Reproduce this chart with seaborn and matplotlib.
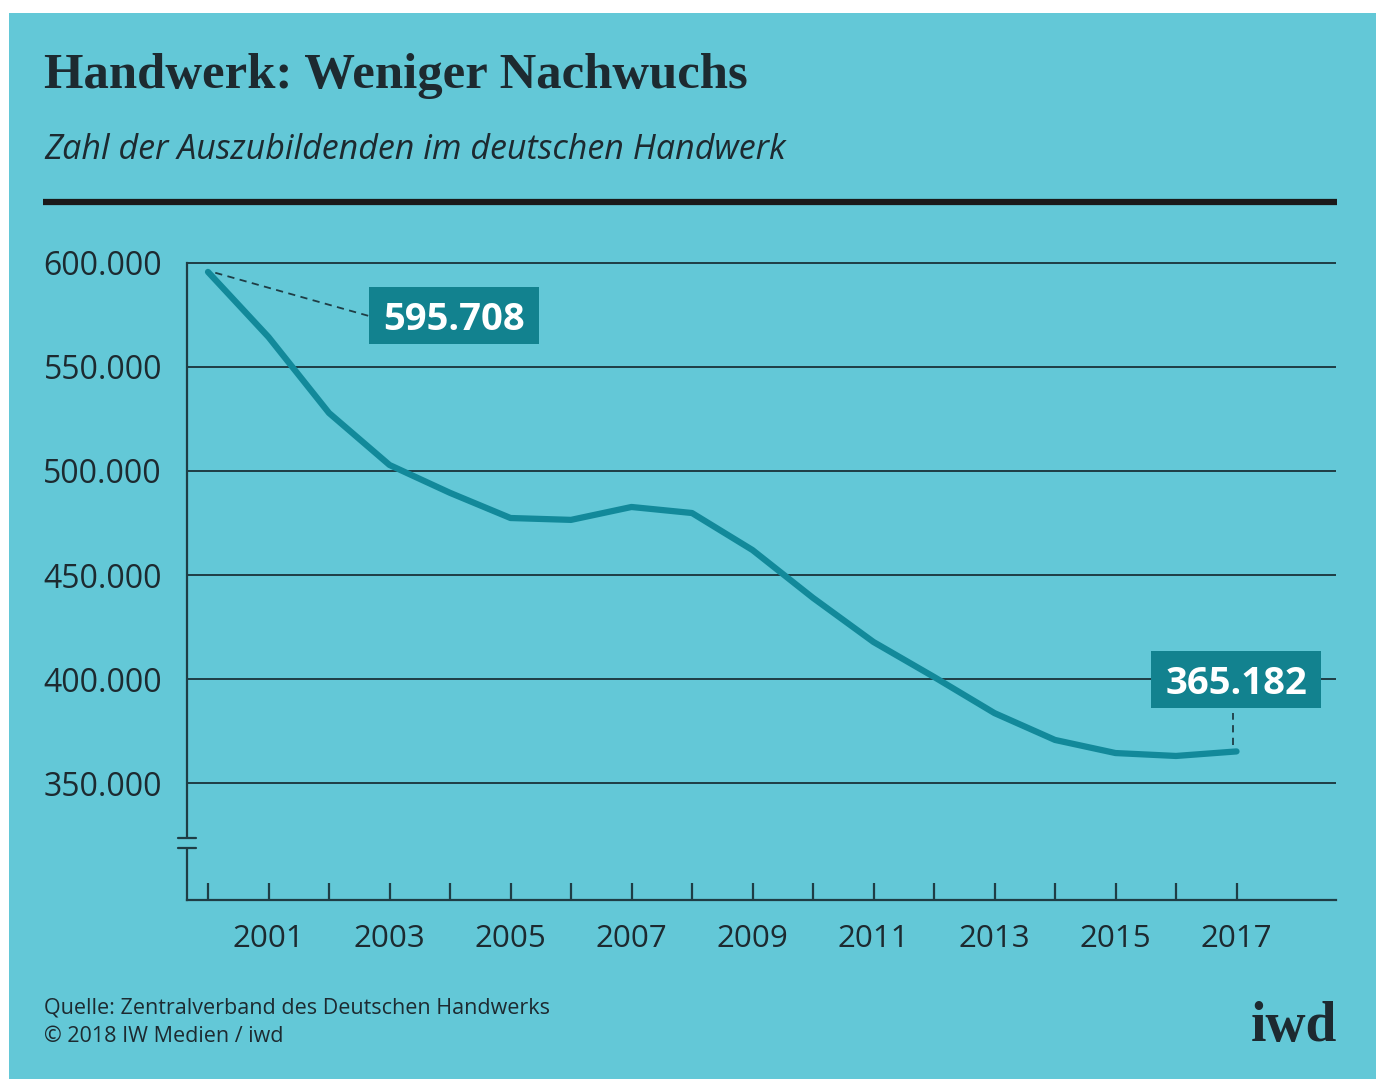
import matplotlib
matplotlib.use("Agg")
import matplotlib.pyplot as plt
import matplotlib.patches as mpatches
from matplotlib.lines import Line2D
import seaborn as sns
import pandas as pd

# Auszubildende im deutschen Handwerk
years = list(range(2000, 2018))
apprentices = [595708, 564400, 527900, 502900, 489500, 477400, 476500, 482700,
               479800, 462000, 439000, 417800, 401000, 383600, 370700, 364400,
               363000, 365182]
tick_years = list(range(2000, 2018))
label_years = [2001, 2003, 2005, 2007, 2009, 2011, 2013, 2015, 2017]
y_ticks = [350000, 400000, 450000, 500000, 550000, 600000]

title = "Handwerk: Weniger Nachwuchs"
subtitle = "Zahl der Auszubildenden im deutschen Handwerk"
source = "Quelle: Zentralverband des Deutschen Handwerks"
copyright_line = "\u00a9 2018 IW Medien / iwd"

BG = "#63c8d7"
LINE = "#12899a"
BOX = "#12828f"
INK = "#1d2a30"
GRID = "#1f3d45"

W, H = 1376, 1079
sns.set_theme(style="white")
plt.rcParams["font.family"] = ["Open Sans", "DejaVu Sans"]

fig = plt.figure(figsize=(W / 100, H / 100), dpi=100, facecolor="white")

def fx(px):
    return px / W

def fy(py):
    return 1 - py / H

# teal panel behind everything
fig.patches.append(mpatches.Rectangle((fx(9), 0), 1 - fx(9), fy(13), transform=fig.transFigure,
                                      facecolor=BG, edgecolor="none", zorder=-10))

fig.text(fx(44), fy(76), title, fontsize=36.5, fontweight="bold", family=["Liberation Serif"],
         color=INK, va="center", ha="left")
fig.text(fx(44), fy(150), subtitle, fontsize=24.5, style="italic", color=INK,
         va="center", ha="left", family=["Open Sans"])
fig.add_artist(Line2D([fx(43), fx(1337)], [fy(202), fy(202)], transform=fig.transFigure,
                      color="#1a1a1a", linewidth=4.5, solid_capstyle="butt"))

# plot area in pixel coordinates
px_per_year = 60.5
px_per_unit = 104 / 50000
ax_left, ax_right = 187, 1336
ax_bottom, ax_top = 900, 252
y_min = 600000 - (ax_bottom - 263) / px_per_unit
y_max = 600000 + (263 - ax_top) / px_per_unit
x_min = 2000 - (208 - ax_left) / px_per_year
x_max = 2000 + (ax_right - 208) / px_per_year

def dx(px):
    return 2000 + (px - 208) / px_per_year

def dy(py):
    return 600000 - (py - 263) / px_per_unit

ax = fig.add_axes([fx(ax_left), fy(ax_bottom), fx(ax_right - ax_left), (ax_bottom - ax_top) / H])
ax.set_zorder(2)
ax.set_facecolor("none")
ax.set_xlim(x_min, x_max)
ax.set_ylim(y_min, y_max)

for v in y_ticks:
    ax.axhline(v, color=GRID, linewidth=1.4, zorder=1)

df = pd.DataFrame({"Jahr": years, "Auszubildende": apprentices})
sns.lineplot(data=df, x="Jahr", y="Auszubildende", ax=ax, color=LINE, linewidth=4.5,
             zorder=3, solid_capstyle="round", solid_joinstyle="round")

for s in ["top", "right"]:
    ax.spines[s].set_visible(False)
ax.spines["left"].set_color(GRID)
ax.spines["bottom"].set_color(GRID)
ax.spines["left"].set_linewidth(1.6)
ax.spines["bottom"].set_linewidth(1.6)
ax.spines["left"].set_bounds(y_min, 600000)

ax.set_xticks(tick_years)
ax.set_xticklabels([str(y) if y in label_years else "" for y in tick_years])
ax.tick_params(axis="x", direction="in", length=12, width=1.6, color=GRID,
               labelsize=22.5, labelcolor=INK, pad=17, bottom=True)
ax.set_yticks(y_ticks)
ax.set_yticklabels([f"{v:,}".replace(",", ".") for v in y_ticks])
ax.tick_params(axis="y", length=0, labelsize=23, labelcolor=INK, pad=18, left=False)
ax.set_xlabel("")
ax.set_ylabel("")

# axis break on the y axis
yb1 = dy(838)
yb2 = dy(848)
gap = mpatches.Rectangle((x_min - 0.05, yb2), 0.1, yb1 - yb2, facecolor=BG, edgecolor="none",
                         zorder=5, clip_on=False, transform=ax.transData)
ax.add_patch(gap)
for yb in (yb1, yb2):
    ax.add_line(Line2D([x_min - 9 / px_per_year, x_min + 9 / px_per_year], [yb, yb],
                       color=GRID, linewidth=1.6, clip_on=False, zorder=6))

def value_box(x0, x1, y0, y1, value):
    ax.add_patch(mpatches.Rectangle((dx(x0), dy(y1)), dx(x1) - dx(x0), dy(y0) - dy(y1),
                                    facecolor=BOX, edgecolor="none", zorder=7, clip_on=False))
    ax.text((dx(x0) + dx(x1)) / 2, (dy(y0) + dy(y1)) / 2, f"{value:,}".replace(",", "."),
            fontsize=27.5, fontweight="bold", color="white", ha="center", va="center_baseline",
            zorder=8)

# value labels for first and last year
first_val, last_val = apprentices[0], apprentices[-1]
ax.plot([years[0] + 0.12, dx(369)], [first_val - 400, dy(316)], color=GRID, linewidth=1.3,
        linestyle=(0, (4, 3)), zorder=2)
value_box(369, 539, 287, 344, first_val)
ax.plot([dx(1233), dx(1233)], [dy(745), dy(713)], color=GRID, linewidth=1.3,
        linestyle=(0, (4, 3)), zorder=2)
value_box(1151, 1321, 651, 708, last_val)

fig.text(fx(44), fy(1008), source, fontsize=15.5, color=INK, va="center", ha="left")
fig.text(fx(44), fy(1037), copyright_line, fontsize=15.5, color=INK, va="center", ha="left")
fig.text(fx(1337), fy(1027), "iwd", fontsize=40, fontweight="bold", family=["Liberation Serif"],
         color=INK, va="center", ha="right")

fig.savefig("out.png", dpi=100, facecolor="white")
